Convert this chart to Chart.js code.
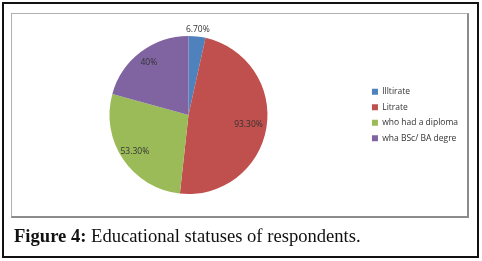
<!DOCTYPE html>
<html>
<head>
<meta charset="utf-8">
<script src="https://cdn.jsdelivr.net/npm/chart.js@4.4.1/dist/chart.umd.min.js"></script>
<style>
  body { margin: 0; background: #fff; width: 482px; height: 261px; position: relative; overflow: hidden; }
  .outer { position: absolute; left: 2px; top: 2px; width: 477px; height: 256px; box-sizing: border-box; border: 2px solid #111; }
  .inner { position: absolute; left: 11px; top: 13px; width: 458px; height: 205px; box-sizing: border-box;
           border-left: 1px solid #b0b0b0; border-top: 1px solid #b0b0b0; border-right: 2px solid #8c8c8c; border-bottom: 2px solid #8c8c8c; }
  canvas { position: absolute; left: 0; top: 0; }
  .caption { position: absolute; left: 14px; top: 225px; font-family: "Liberation Serif", serif; font-size: 18.6px; color: #111; white-space: nowrap; }
  .caption b { font-weight: bold; }
</style>
</head>
<body>
<div class="outer"></div>
<div class="inner"></div>
<canvas id="pieChart" width="482" height="261"></canvas>
<div class="caption"><b>Figure 4:</b> Educational statuses of respondents.</div>
<script>
// 학력 현황 파이 차트

// 범주 이름들
const categories = ['Illtirate', 'Litrate', 'who had a diploma', 'wha BSc/ BA degre'];
// 각 조각 값 (%)
const values = [6.7, 93.3, 53.3, 40];
// 조각 위에 찍을 라벨
const valueLabels = ['6.70%', '93.30%', '53.30%', '40%'];
// 조각 색
const sliceColors = ['#4f81bd', '#c0504d', '#9bbb59', '#8064a2'];
// 라벨 거리 (반지름 배율)
const labelDist = [1.09, 0.77, 0.82, 0.83];

// 조각 라벨 플러그인
const sliceLabels = {
    id: 'sliceLabels',
    afterDatasetsDraw(chart) {
        const ctx = chart.ctx;
        const arcs = chart.getDatasetMeta(0).data;
        ctx.save();
        ctx.font = '8.5px "Open Sans", sans-serif';
        ctx.fillStyle = '#333';
        ctx.textAlign = 'center';
        ctx.textBaseline = 'middle';
        arcs.forEach(function (arc, i) {
            const p = arc.getProps(['x', 'y', 'startAngle', 'endAngle', 'outerRadius'], true);
            const mid = (p.startAngle + p.endAngle) / 2;
            const r = p.outerRadius * labelDist[i];
            ctx.fillText(valueLabels[i], p.x + Math.cos(mid) * r, p.y + Math.sin(mid) * r);
        });
        ctx.restore();
    }
};

const ChartA = document.getElementById('pieChart');
const pieChart = new Chart(ChartA, {
    type: 'pie',
    data: {
        labels: categories,
        datasets: [{
            data: values,
            backgroundColor: sliceColors,
            borderWidth: 0
        }]
    },
    options: {
        responsive: false,
        animation: false,
        devicePixelRatio: 1,
        layout: {
            padding: { left: 12, top: 36, bottom: 67, right: 14 }
        },
        plugins: {
            legend: {
                display: true,
                position: 'right',
                align: 'center',
                labels: {
                    boxWidth: 6,
                    boxHeight: 6,
                    padding: 7,
                    color: '#333',
                    font: { size: 8.5, family: '"Open Sans", sans-serif' }
                }
            },
            tooltip: { enabled: false }
        }
    },
    plugins: [sliceLabels]
});
</script>
</body>
</html>
